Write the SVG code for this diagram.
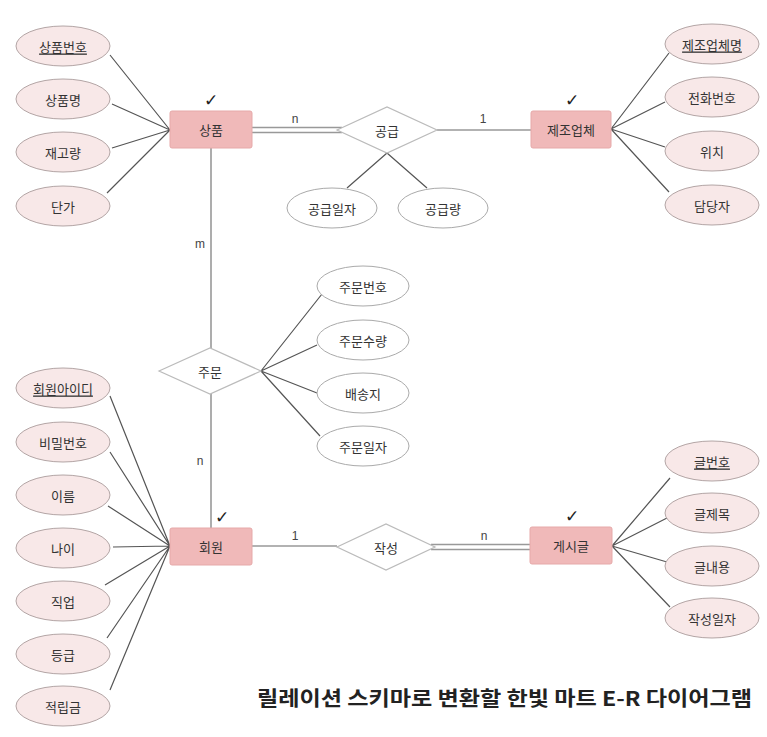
<svg xmlns="http://www.w3.org/2000/svg" width="767" height="737" viewBox="0 0 767 737">
<style>
text{font-family:"Noto Sans CJK KR","Noto Sans",sans-serif;fill:#333;font-size:13px;text-anchor:middle;dominant-baseline:central}
.ent rect{fill:#f0b9b9;stroke:#e6a9a9;stroke-width:1}
.attr ellipse{fill:#f8e8e8;stroke:#b3a5a5;stroke-width:1}
.rattr ellipse{fill:#fff;stroke:#aaa;stroke-width:1}
.rel polygon{fill:#fff;stroke:#bbb;stroke-width:1.2}
.key{text-decoration:underline}
.chk{font-family:"DejaVu Sans",sans-serif;font-size:17px;fill:#222}
.lab{font-size:12px;font-family:"Liberation Sans",sans-serif;fill:#444}
#connectors .a{stroke:#555;stroke-width:1.2;fill:none}
#connectors .r{stroke:#999;stroke-width:1.6;fill:none}
.title{font-size:20px;font-weight:bold;fill:#222;text-anchor:end}
</style>
<rect width="767" height="737" fill="#fff"/>
<g id="connectors">
  <path class="a" d="M110 55L170 130M112 104L170 130M112 148L170 130M107 193L170 130"/>
  <path class="a" d="M611 129L669 53M611 129L665 102M611 129L665 147M611 129L669 192"/>
  <path class="a" d="M387 153L347 188M387 153L427 188"/>
  <path class="a" d="M261 371L322 294M261 371L317 345M261 371L317 393M261 371L320 436"/>
  <path class="a" d="M170 546L110 396M170 546L110 452M170 546L108 506M170 546L113 547M170 546L105 585M170 546L107 638M170 546L110 690"/>
  <path class="a" d="M612 546L670 478M612 546L667 518M612 546L667 562M612 546L670 607"/>
  <path class="r" d="M252 127.5H342M252 132.5H342"/>
  <path class="r" d="M437 130H531"/>
  <path class="r" d="M211 148V348M211 394V528"/>
  <path class="r" d="M252 546H337"/>
  <path class="r" d="M431 544.5H530M431 549.5H530"/>
  <text class="lab" x="295" y="119">n</text>
  <text class="lab" x="483" y="119">1</text>
  <text class="lab" x="200" y="244">m</text>
  <text class="lab" x="200" y="461">n</text>
  <text class="lab" x="295" y="536">1</text>
  <text class="lab" x="484" y="536">n</text>
</g>
<g id="e-sangpum" class="ent"><rect x="170" y="111" width="82" height="37" rx="2"/><text x="211" y="129.5">상품</text><text class="chk" x="211" y="100">✓</text></g>
<g id="e-maker" class="ent"><rect x="531" y="111" width="80" height="37" rx="2"/><text x="571" y="129.5">제조업체</text><text class="chk" x="572" y="100">✓</text></g>
<g id="e-member" class="ent"><rect x="170" y="528" width="82" height="37" rx="2"/><text x="211" y="546.5">회원</text><text class="chk" x="222" y="517">✓</text></g>
<g id="e-post" class="ent"><rect x="530" y="527" width="82" height="37" rx="2"/><text x="571" y="545.5">게시글</text><text class="chk" x="572" y="516">✓</text></g>
<g id="r-supply" class="rel"><polygon points="337,130 387,107 437,130 387,153"/><text x="387" y="130">공급</text></g>
<g id="r-order" class="rel"><polygon points="159,371 210,348 261,371 210,394"/><text x="210" y="371">주문</text></g>
<g id="r-write" class="rel"><polygon points="337,547 386,524 435,547 386,570"/><text x="386" y="547">작성</text></g>
<g id="a-pno" class="attr"><ellipse cx="63" cy="46" rx="47" ry="20"/><text class="key" x="63" y="46">상품번호</text></g>
<g id="a-pname" class="attr"><ellipse cx="63" cy="99" rx="47" ry="20"/><text x="63" y="99">상품명</text></g>
<g id="a-stock" class="attr"><ellipse cx="63" cy="152" rx="47" ry="20"/><text x="63" y="152">재고량</text></g>
<g id="a-price" class="attr"><ellipse cx="63" cy="206" rx="47" ry="20"/><text x="63" y="206">단가</text></g>
<g id="a-mname" class="attr"><ellipse cx="712" cy="44" rx="47" ry="20"/><text class="key" x="712" y="44">제조업체명</text></g>
<g id="a-tel" class="attr"><ellipse cx="712" cy="97" rx="47" ry="20"/><text x="712" y="97">전화번호</text></g>
<g id="a-loc" class="attr"><ellipse cx="712" cy="151" rx="47" ry="20"/><text x="712" y="151">위치</text></g>
<g id="a-mgr" class="attr"><ellipse cx="712" cy="205" rx="47" ry="20"/><text x="712" y="205">담당자</text></g>
<g id="a-sdate" class="rattr"><ellipse cx="332" cy="208" rx="45" ry="20"/><text x="332" y="208">공급일자</text></g>
<g id="a-sqty" class="rattr"><ellipse cx="443" cy="208" rx="45" ry="20"/><text x="443" y="208">공급량</text></g>
<g id="a-ono" class="rattr"><ellipse cx="363" cy="286" rx="46" ry="20"/><text x="363" y="286">주문번호</text></g>
<g id="a-oqty" class="rattr"><ellipse cx="363" cy="340" rx="46" ry="20"/><text x="363" y="340">주문수량</text></g>
<g id="a-ship" class="rattr"><ellipse cx="363" cy="393" rx="46" ry="20"/><text x="363" y="393">배송지</text></g>
<g id="a-odate" class="rattr"><ellipse cx="363" cy="446" rx="46" ry="20"/><text x="363" y="446">주문일자</text></g>
<g id="a-id" class="attr"><ellipse cx="63" cy="388" rx="47" ry="20"/><text class="key" x="63" y="388">회원아이디</text></g>
<g id="a-pw" class="attr"><ellipse cx="63" cy="442" rx="47" ry="20"/><text x="63" y="442">비밀번호</text></g>
<g id="a-name" class="attr"><ellipse cx="63" cy="495" rx="47" ry="20"/><text x="63" y="495">이름</text></g>
<g id="a-age" class="attr"><ellipse cx="63" cy="548" rx="47" ry="20"/><text x="63" y="548">나이</text></g>
<g id="a-job" class="attr"><ellipse cx="63" cy="601" rx="47" ry="20"/><text x="63" y="601">직업</text></g>
<g id="a-grade" class="attr"><ellipse cx="63" cy="654" rx="47" ry="20"/><text x="63" y="654">등급</text></g>
<g id="a-point" class="attr"><ellipse cx="63" cy="706" rx="47" ry="20"/><text x="63" y="706">적립금</text></g>
<g id="a-postno" class="attr"><ellipse cx="712" cy="461" rx="47" ry="20"/><text class="key" x="712" y="461">글번호</text></g>
<g id="a-title" class="attr"><ellipse cx="712" cy="513" rx="47" ry="20"/><text x="712" y="513">글제목</text></g>
<g id="a-content" class="attr"><ellipse cx="712" cy="566" rx="47" ry="20"/><text x="712" y="566">글내용</text></g>
<g id="a-wdate" class="attr"><ellipse cx="712" cy="618" rx="47" ry="20"/><text x="712" y="618">작성일자</text></g>
<text class="title" x="752" y="697" textLength="495" lengthAdjust="spacingAndGlyphs">릴레이션 스키마로 변환할 한빛 마트 E-R 다이어그램</text>
</svg>
